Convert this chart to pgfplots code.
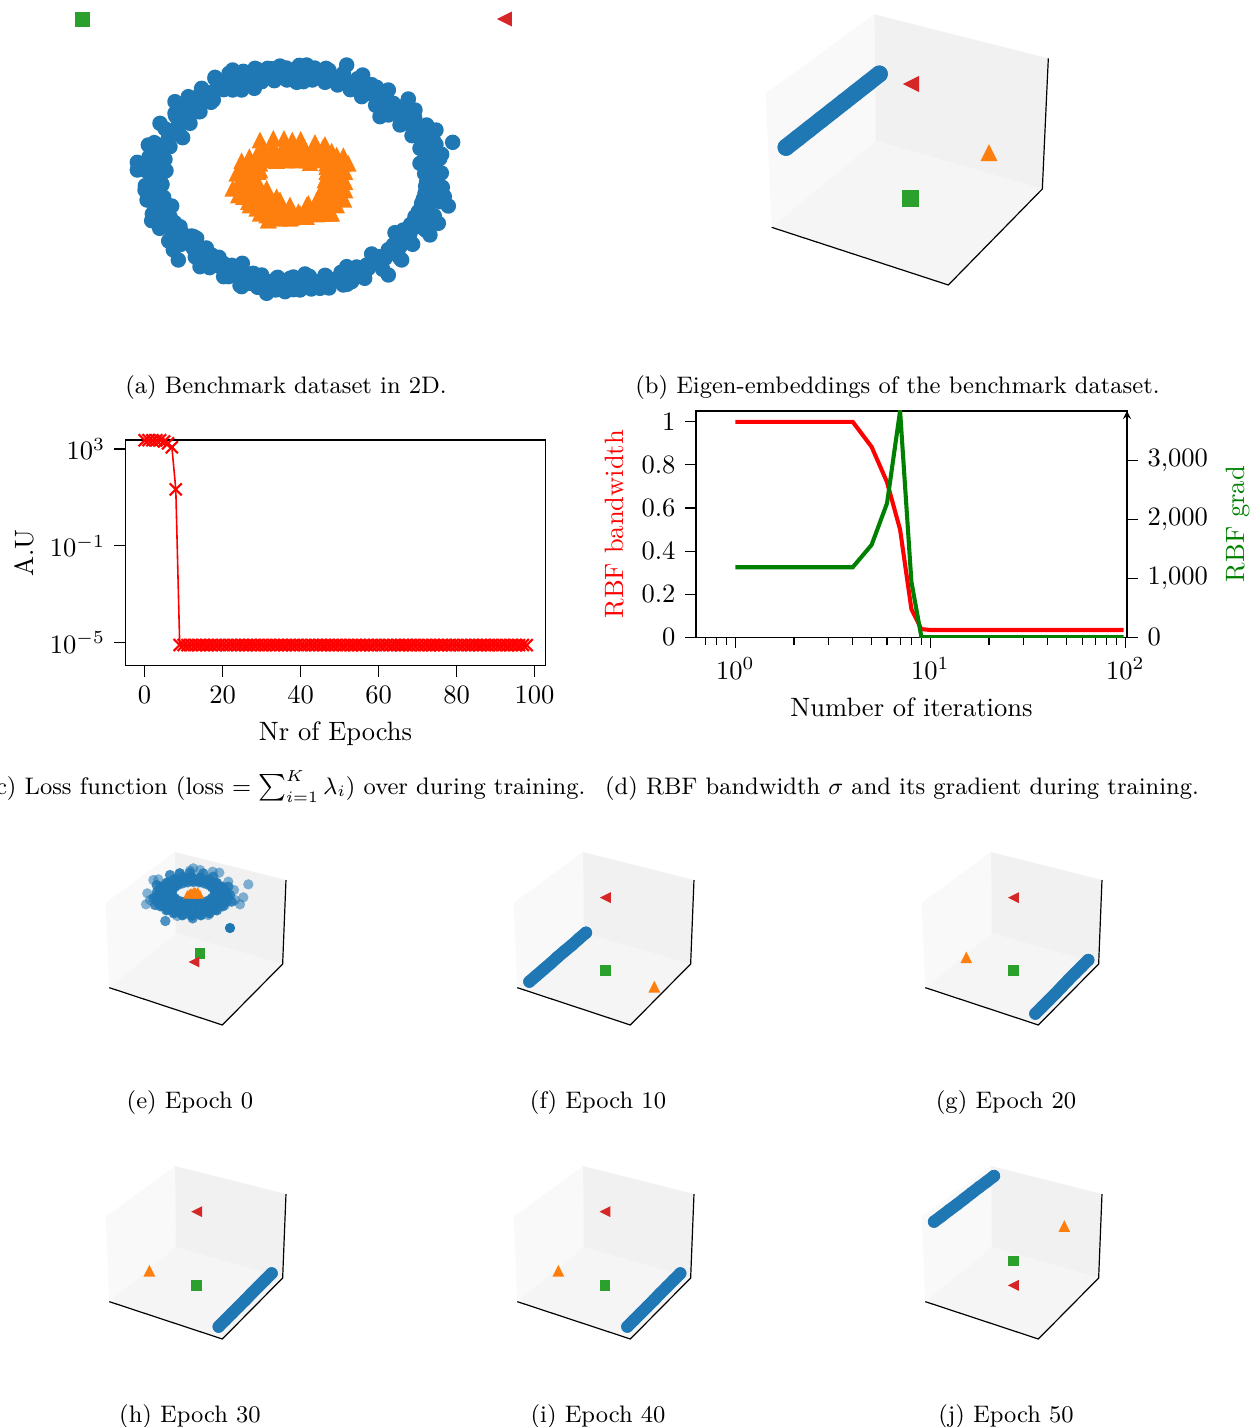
\documentclass[border=0pt]{standalone}
\usepackage{pgfplots}
\pgfplotsset{compat=1.18}
\definecolor{tbl}{HTML}{1F77B4}
\definecolor{tor}{HTML}{FF7F0E}
\definecolor{tgr}{HTML}{2CA02C}
\definecolor{trd}{HTML}{D62728}
\definecolor{dkgreen}{rgb}{0,0.5,0}
\def\U{0.3769pt}
\pgfdeclareplotmark{mcirc}{\pgfpathcircle{\pgfpointorigin}{\pgfplotmarksize}\pgfusepathqfill}
\pgfdeclareplotmark{msq}{\pgfpathrectangle{\pgfqpoint{-\pgfplotmarksize}{-\pgfplotmarksize}}{\pgfqpoint{2\pgfplotmarksize}{2\pgfplotmarksize}}\pgfusepathqfill}
\pgfdeclareplotmark{mup}{\pgfpathmoveto{\pgfqpoint{0pt}{\pgfplotmarksize}}\pgfpathlineto{\pgfqpoint{-\pgfplotmarksize}{-\pgfplotmarksize}}\pgfpathlineto{\pgfqpoint{\pgfplotmarksize}{-\pgfplotmarksize}}\pgfpathclose\pgfusepathqfill}
\pgfdeclareplotmark{mleft}{\pgfpathmoveto{\pgfqpoint{-\pgfplotmarksize}{0pt}}\pgfpathlineto{\pgfqpoint{\pgfplotmarksize}{\pgfplotmarksize}}\pgfpathlineto{\pgfqpoint{\pgfplotmarksize}{-\pgfplotmarksize}}\pgfpathclose\pgfusepathqfill}
\pgfplotsset{
  pan/.style={hide axis, scale only axis, clip=false, anchor=north west, y dir=reverse},
  small3d/.style={pan, width=82.918pt, height=75.38pt, xmin=0, xmax=660, ymin=0, ymax=600},
  blackticks/.style={tick style={black, line width=0.4pt}, major tick length=4.2pt, minor tick length=2.8pt},
}
\newcommand\smallpanes{%
  \addplot[draw=none, fill=black!2.5] coordinates {(47,188) (255,36) (258,280) (58,443) (47,188)};
  \addplot[draw=none, fill=black!5.5] coordinates {(255,36) (588,120) (578,372) (258,280) (255,36)};
  \addplot[draw=none, fill=black!4] coordinates {(258,280) (578,372) (397,555) (58,443) (258,280)};
  \addplot[black, line width=0.45pt] coordinates {(58,443) (397,555) (578,372) (588,120)};
}
\tikzset{bandS/.style={tbl, line width=4.6pt, line cap=round, mark=mcirc, mark size=2.3pt, mark options={fill=tbl,draw=none}}}
\newcommand\capnode[3]{\node[anchor=base, font=\small, inner sep=0pt] at (#1*\U,-#2*\U) {#3};}
\begin{document}
\begin{tikzpicture}
\path[use as bounding box] (0,0) rectangle (1251*\U,-1427*\U);

% (a)
\begin{axis}[pan, width=180.912pt, height=116.839pt, xmin=0, xmax=1440, ymin=0, ymax=930, at={(60*\U,0*\U)}]
\addplot[tbl, only marks, mark=mcirc, mark size=2.92pt, mark options={fill=tbl,draw=none}] coordinates {
(518,210)(585,205)(623,205)(660,198)(718,196)(740,195)(798,205)(860,195)(908,225)(985,270)(1045,297)(1128,390)(1178,427)(1145,463)(1080,490)(1130,510)(1100,545)(1130,545)(1153,590)(1165,618)(1135,670)(1110,705)(1005,698)(1055,730)(1025,780)(985,825)(935,762)(860,800)(798,828)(735,822)(690,835)(650,835)(620,880)(675,875)(720,870)(780,865)(850,855)(875,845)(545,860)(570,850)(547,790)(580,820)(505,830)(490,790)(455,765)(420,800)(395,708)(410,715)(355,780)(340,750)(360,680)(335,618)(275,662)(305,625)(265,600)(255,570)(305,552)(232,487)(232,510)(318,512)(290,465)(265,435)(368,413)(390,370)(300,370)(345,305)(345,340)(420,335)(385,290)(425,265)(465,232)(460,300)(518,270)(545,270)(583,265)(600,240)(710,247)(730,245)(760,235)(830,250)(868,260)(905,290)(960,350)(965,300)(950,262)(1020,375)(1060,400)(1065,330)(1000,310)(1040,320)(1100,375)(1085,440)(1100,470)(1095,580)(1085,610)(1065,650)(1030,690)(1000,735)(960,770)(920,795)(880,820)(820,840)(770,850)(700,850)(660,850)(600,835)(530,830)(480,800)(440,780)(400,745)(340,700)(330,650)(290,610)(280,560)(285,510)(295,450)(330,400)(360,360)(400,310)(440,285)(480,260)(540,235)(600,225)(650,225)(700,220)(790,230)(840,235)(910,260)(990,330)(1120,420)(1110,510)(1120,600)(1100,640)(1120,660)
(500,245)(520,240)(540,238)(560,235)(580,232)(600,230)(620,228)(640,227)(660,225)(680,225)(700,225)(720,225)(740,225)(760,225)(780,228)(800,232)(820,235)(840,240)(860,245)(880,255)(900,262)(920,272)(940,285)(960,305)(980,320)(1000,335)(1020,350)(1040,365)(1060,385)(1075,400)(1090,420)(1100,440)(1108,460)(1110,480)(1112,500)(1115,520)(1118,540)(1118,560)(1115,580)(1110,600)(1105,620)(1095,640)(1085,660)(1070,680)(1050,700)(1035,720)(1020,740)(1000,760)(975,775)(950,790)(925,805)(900,815)(875,825)(850,832)(825,838)(800,842)(775,845)(750,845)(725,845)(700,847)(675,848)(650,848)(625,845)(600,840)(575,840)(550,835)(525,825)(505,810)(485,795)(465,785)(445,770)(425,755)(405,735)(385,720)(365,715)(350,710)(335,695)(325,675)(315,655)(305,635)(300,615)(290,595)(285,575)(285,555)(290,535)(290,515)(290,495)(295,475)(300,455)(310,435)(325,415)(340,395)(355,375)(370,360)(385,340)(400,325)(420,310)(440,295)(460,275)(480,255)
(507,220)(550,214)(593,209)(636,206)(679,204)(721,204)(764,204)(807,211)(850,220)(893,236)(935,254)(978,289)(1021,321)(1064,353)(1101,391)(1128,434)(1139,476)(1144,519)(1147,562)(1139,605)(1123,648)(1096,690)(1058,733)(1021,776)(968,808)(914,835)(861,853)(807,864)(754,867)(700,869)(647,870)(593,862)(540,856)(491,830)(449,803)(406,771)(363,733)(326,723)(299,685)(277,642)(261,600)(256,557)(261,514)(267,471)(283,428)(315,386)(347,348)(379,311)(422,279)(465,236)
(529,255)(567,250)(605,245)(643,242)(681,240)(719,240)(757,240)(795,247)(833,255)(871,269)(909,285)(947,316)(985,345)(1023,373)(1056,407)(1080,445)(1090,483)(1094,521)(1097,559)(1090,597)(1075,635)(1052,673)(1018,711)(985,749)(938,777)(890,801)(843,817)(795,826)(748,829)(700,831)(653,832)(605,825)(558,820)(515,796)(477,772)(439,744)(401,710)(368,701)(344,668)(325,630)(311,592)(306,554)(311,516)(315,478)(330,440)(358,402)(387,368)(415,335)(453,307)(491,269)
};
\addplot[tor, only marks, mark=mup, mark size=3.13pt, mark options={fill=tor,draw=none}] coordinates {
(600,420)(640,415)(672,415)(697,420)(722,418)(765,427)(795,433)(815,453)(850,467)(865,490)(855,515)(855,545)(855,570)(852,598)(815,640)(780,640)(740,650)(690,655)(625,660)(620,645)(590,625)(565,605)(518,565)(535,585)(530,520)(545,482)(568,470)(600,460)(635,445)(675,450)(720,450)(770,450)(810,490)(820,520)(825,550)(800,585)(770,600)(745,610)(660,600)(690,620)(715,635)(650,482)(690,472)(720,470)(750,488)(600,510)(590,550)(610,580)(565,530)(570,560)(600,600)(630,610)(560,510)(600,480)(800,530)(800,500)(820,600)(790,560)(790,620)(700,640)(650,640)(745,640)(770,620)
(610,440)(640,440)(670,440)(700,440)(730,440)(760,440)(790,440)
(590,465)(620,465)(650,465)(680,465)(710,465)(740,465)(770,465)(800,465)(830,465)
(620,480)(650,480)(680,480)(710,480)(740,480)(770,480)(560,490)(585,490)(600,490)(800,490)(825,490)(850,490)
(545,515)(570,515)(595,515)(800,515)(825,515)(850,515)
(540,540)(565,540)(590,540)(795,540)(820,540)(845,540)
(545,565)(570,565)(595,565)(620,565)(795,565)(820,565)(845,565)
(550,590)(575,590)(600,590)(625,590)(650,590)(790,590)(815,590)(840,590)
(570,615)(600,615)(630,615)(660,615)(690,615)(740,615)(770,615)(800,615)(830,615)
(600,640)(630,640)(660,640)(690,640)(720,640)(750,640)(780,640)(810,640)
(625,660)(660,655)(695,652)(730,648)(770,642)(795,640)
};
\addplot[tgr, only marks, mark=msq, mark size=2.83pt, mark options={fill=tgr,draw=none}] coordinates {(67,57)};
\addplot[trd, only marks, mark=mleft, mark size=2.83pt, mark options={fill=trd,draw=none}] coordinates {(1333,57)};
\end{axis}

% (b)
\begin{axis}[pan, width=128.146pt, height=113.07pt, xmin=0, xmax=1020, ymin=0, ymax=900, at={(740*\U,0*\U)}]
\addplot[draw=none, fill=black!2.5] coordinates {(77,280) (403,43) (408,423) (95,682) (77,280)};
\addplot[draw=none, fill=black!5.5] coordinates {(403,43) (925,175) (907,567) (408,423) (403,43)};
\addplot[draw=none, fill=black!4] coordinates {(408,423) (907,567) (625,855) (95,682) (408,423)};
\addplot[black, line width=0.45pt] coordinates {(95,682) (625,855) (907,567) (925,175)};
\addplot[tbl, line width=6.4pt, line cap=round, mark=mcirc, mark size=3.2pt, mark options={fill=tbl,draw=none}] coordinates {(138,442)(173,414.5)(208,387)(243,359.5)(278,332)(313,304.5)(348,277)(383,249.5)(418,222)};
\addplot[tor, only marks, mark=mup, mark size=3.2pt, mark options={fill=tor,draw=none}] coordinates {(747,458)};
\addplot[tgr, only marks, mark=msq, mark size=3.2pt, mark options={fill=tgr,draw=none}] coordinates {(512,596)};
\addplot[trd, only marks, mark=mleft, mark size=3.1pt, mark options={fill=trd,draw=none}] coordinates {(513,252)};
\end{axis}

% (c)
\begin{axis}[scale only axis, width=158.298pt, height=85.066pt, anchor=south west, at={(125.5*\U,-665.7*\U)},
  xmin=-4.9, xmax=102.8, ymode=log, ymin=1.12e-6, ymax=2344, clip=false, blackticks,
  xtick={0,20,40,60,80,100}, ytick={1e3,1e-1,1e-5}, yminorticks=false, tick align=outside, xtick pos=bottom, ytick pos=left,
  xlabel={Nr of Epochs}, ylabel={A.U}, log basis y=10, ylabel style={yshift=-0.8pt}, xlabel style={yshift=-0.1pt}]
\addplot[red, line width=0.6pt, mark=x, mark size=3.2pt, mark options={line width=0.8pt}] coordinates {
(0,2300)(1,2300)(2,2300)(3,2300)(4,2300)(5,2050)(6,1700)(7,1175)(8,21.5)(9,8e-6)
(10,8e-6)(11,8e-6)(12,8e-6)(13,8e-6)(14,8e-6)(15,8e-6)(16,8e-6)(17,8e-6)(18,8e-6)(19,8e-6)
(20,8e-6)(21,8e-6)(22,8e-6)(23,8e-6)(24,8e-6)(25,8e-6)(26,8e-6)(27,8e-6)(28,8e-6)(29,8e-6)
(30,8e-6)(31,8e-6)(32,8e-6)(33,8e-6)(34,8e-6)(35,8e-6)(36,8e-6)(37,8e-6)(38,8e-6)(39,8e-6)
(40,8e-6)(41,8e-6)(42,8e-6)(43,8e-6)(44,8e-6)(45,8e-6)(46,8e-6)(47,8e-6)(48,8e-6)(49,8e-6)
(50,8e-6)(51,8e-6)(52,8e-6)(53,8e-6)(54,8e-6)(55,8e-6)(56,8e-6)(57,8e-6)(58,8e-6)(59,8e-6)
(60,8e-6)(61,8e-6)(62,8e-6)(63,8e-6)(64,8e-6)(65,8e-6)(66,8e-6)(67,8e-6)(68,8e-6)(69,8e-6)
(70,8e-6)(71,8e-6)(72,8e-6)(73,8e-6)(74,8e-6)(75,8e-6)(76,8e-6)(77,8e-6)(78,8e-6)(79,8e-6)
(80,8e-6)(81,8e-6)(82,8e-6)(83,8e-6)(84,8e-6)(85,8e-6)(86,8e-6)(87,8e-6)(88,8e-6)(89,8e-6)
(90,8e-6)(91,8e-6)(92,8e-6)(93,8e-6)(94,8e-6)(95,8e-6)(96,8e-6)(97,8e-6)(98,8e-6)
};
\end{axis}

% (d) left
\begin{axis}[scale only axis, width=162.444pt, height=85.292pt, anchor=south west, at={(696*\U,-637.3*\U)},
  xmode=log, log basis x=10, xmin=0.629, xmax=102, ymin=0, ymax=1.05, blackticks,
  xtick={1,10,100}, minor xtick={0.7,0.8,0.9,2,3,4,5,6,7,8,9,20,30,40,50,60,70,80,90}, ytick={0,0.2,0.4,0.6,0.8,1}, tick align=outside, xtick pos=bottom, ytick pos=left,
  xlabel={Number of iterations}, ylabel={RBF bandwidth}, ylabel style={red, yshift=-0.4pt}]
\addplot[red, line width=1.54pt] coordinates {(1,1)(2,1)(3,1)(4,1)(5,0.884)(6,0.72)(7,0.50)(8,0.131)(9,0.038)(10,0.034)(20,0.034)(40,0.034)(60,0.034)(80,0.034)(98,0.034)};
\end{axis}
% (d) right
\begin{axis}[scale only axis, width=162.444pt, height=85.292pt, anchor=south west, at={(696*\U,-637.3*\U)},
  xmode=log, xmin=0.629, xmax=102, ymin=0, ymax=3842, axis x line=none, axis y line=right, blackticks,
  ytick={0,1000,2000,3000}, tick align=outside, scaled y ticks=false,
  ylabel={RBF grad}, ylabel style={dkgreen, yshift=0pt}]
\addplot[dkgreen, line width=1.54pt] coordinates {(1,1188)(2,1188)(3,1188)(4,1188)(5,1567)(6,2274)(7,3842)(8,944)(9,5)(10,3)(20,3)(40,3)(60,3)(80,3)(98,3)};
\end{axis}

% (e)
\begin{axis}[small3d, at={(90*\U,-840*\U)}]
\smallpanes
\addplot[tbl, only marks, mark=mcirc, mark size=1.95pt, mark options={fill=tbl,draw=none,fill opacity=0.55}] coordinates {
(310,85)(300,92)(205,118)(190,120)(388,98)(368,95)(475,133)(432,150)(460,172)(450,193)(168,193)(172,160)(180,180)(262,228)(308,235)(355,225)(375,210)(405,195)(435,180)(415,125)(268,100)(330,90)(226,243)(226,243)(308,235)};
\addplot[tbl, only marks, mark=mcirc, mark size=1.95pt, mark options={fill=tbl,draw=none,fill opacity=0.85}] coordinates {
(375,158)(366,174)(342,186)(310,190)(278,186)(254,174)(245,158)(254,142)(278,130)(310,126)(342,130)(366,142)
(395,165)(383,190)(350,208)(305,215)(260,208)(227,190)(215,165)(227,140)(260,122)(305,115)(350,122)(383,140)
(392,178)(369,200)(328,213)(282,213)(241,200)(218,178)(218,152)(241,130)(282,117)(328,117)(369,130)(392,152)
(373,166)(356,181)(327,189)(293,189)(264,181)(247,166)(247,150)(264,135)(293,127)(327,127)(356,135)(373,150)
(386,162)(383,173)(376,182)(363,191)(347,198)(328,202)(308,203)(288,202)(269,198)(253,191)(240,182)(233,173)(230,162)(233,151)(240,141)(253,133)(269,126)(288,122)(308,121)(328,122)(347,126)(363,133)(376,141)(383,151)
(405,168)(402,183)(392,197)(376,209)(355,218)(331,224)(305,226)(279,224)(255,218)(234,209)(218,197)(208,183)(205,168)(208,153)(218,139)(234,127)(255,118)(279,112)(305,110)(331,112)(355,118)(376,127)(392,139)(402,153)
(413,170)(409,185)(399,199)(381,211)(359,220)(333,226)(305,228)(277,226)(251,220)(229,211)(211,199)(201,185)(197,170)(201,155)(211,141)(229,129)(251,120)(277,114)(305,112)(333,114)(359,120)(381,129)(399,141)(409,155)
(190,175)(195,195)(420,165)(425,185)(200,135)(415,140)(240,105)(270,100)(300,98)(340,100)(370,110)
(285,185)(335,185)(310,178)};
\addplot[tbl, only marks, mark=mcirc, mark size=1.95pt, mark options={fill=tbl,draw=none}] coordinates {(420,264)};
\addplot[tor, only marks, mark=mup, mark size=1.6pt, mark options={fill=tor,draw=none}] coordinates {(292,163)(298,160)(303,157)(310,155)(315,153)(322,155)(325,157)(330,163)(310,163)(318,163)};
\addplot[tgr, only marks, mark=msq, mark size=1.95pt, mark options={fill=tgr,draw=none}] coordinates {(330,340)};
\addplot[trd, only marks, mark=mleft, mark size=2.05pt, mark options={fill=trd,draw=none}] coordinates {(312,366)};
\end{axis}

% (f)
\begin{axis}[small3d, at={(498*\U,-840*\U)}]
\smallpanes
\addplot[bandS] coordinates {(94,425)(115,407)(137,388)(158,370)(179,351)(200,333)(222,315)(243,296)(264,278)};
\addplot[tor, only marks, mark=mup, mark size=2.2pt, mark options={fill=tor,draw=none}] coordinates {(469,440)};
\addplot[tgr, only marks, mark=msq, mark size=1.95pt, mark options={fill=tgr,draw=none}] coordinates {(322,392)};
\addplot[trd, only marks, mark=mleft, mark size=2.05pt, mark options={fill=trd,draw=none}] coordinates {(322,173)};
\end{axis}

% (g)
\begin{axis}[small3d, at={(906*\U,-840*\U)}]
\smallpanes
\addplot[bandS] coordinates {(388,521)(408,501)(428,481)(448,461)(468,440)(487,420)(507,400)(527,380)(547,360)};
\addplot[tor, only marks, mark=mup, mark size=2.2pt, mark options={fill=tor,draw=none}] coordinates {(181,352)};
\addplot[tgr, only marks, mark=msq, mark size=1.95pt, mark options={fill=tgr,draw=none}] coordinates {(322,392)};
\addplot[trd, only marks, mark=mleft, mark size=2.05pt, mark options={fill=trd,draw=none}] coordinates {(322,173)};
\end{axis}

% (h)
\begin{axis}[small3d, at={(90*\U,-1154*\U)}]
\smallpanes
\addplot[bandS] coordinates {(386,518)(406,498)(426,478)(446,458)(466,438)(485,418)(505,398)(525,378)(545,358)};
\addplot[tor, only marks, mark=mup, mark size=2.2pt, mark options={fill=tor,draw=none}] coordinates {(178,350)};
\addplot[tgr, only marks, mark=msq, mark size=1.95pt, mark options={fill=tgr,draw=none}] coordinates {(320,394)};
\addplot[trd, only marks, mark=mleft, mark size=2.05pt, mark options={fill=trd,draw=none}] coordinates {(320,173)};
\end{axis}

% (i)
\begin{axis}[small3d, at={(498*\U,-1154*\U)}]
\smallpanes
\addplot[bandS] coordinates {(388,518)(408,498)(428,478)(448,458)(468,438)(487,418)(507,398)(527,378)(547,358)};
\addplot[tor, only marks, mark=mup, mark size=2.2pt, mark options={fill=tor,draw=none}] coordinates {(181,350)};
\addplot[tgr, only marks, mark=msq, mark size=1.95pt, mark options={fill=tgr,draw=none}] coordinates {(321,394)};
\addplot[trd, only marks, mark=mleft, mark size=2.05pt, mark options={fill=trd,draw=none}] coordinates {(321,173)};
\end{axis}

% (j)
\begin{axis}[small3d, at={(906*\U,-1154*\U)}]
\smallpanes
\addplot[bandS] coordinates {(84,203)(107,186)(129,169)(152,152)(174,135)(197,117)(219,100)(242,83)(264,66)};
\addplot[tor, only marks, mark=mup, mark size=2.2pt, mark options={fill=tor,draw=none}] coordinates {(475,216)};
\addplot[tgr, only marks, mark=msq, mark size=1.95pt, mark options={fill=tgr,draw=none}] coordinates {(322,320)};
\addplot[trd, only marks, mark=mleft, mark size=2.05pt, mark options={fill=trd,draw=none}] coordinates {(322,394)};
\end{axis}

\capnode{286}{393}{(a) Benchmark dataset in 2D.}
\capnode{897.5}{393}{(b) Eigen-embeddings of the benchmark dataset.}
\node[anchor=base east, font=\small, inner sep=0pt] at (586*\U,-794*\U) {(c) Loss function (loss $=\sum_{i=1}^{K}\lambda_i$) over during training.};
\capnode{902}{794}{(d) RBF bandwidth $\sigma$ and its gradient during training.}
\capnode{190}{1108}{(e) Epoch 0}
\capnode{598}{1108}{(f) Epoch 10}
\capnode{1006}{1108}{(g) Epoch 20}
\capnode{190}{1422}{(h) Epoch 30}
\capnode{598}{1422}{(i) Epoch 40}
\capnode{1006}{1422}{(j) Epoch 50}
\end{tikzpicture}
\end{document}
